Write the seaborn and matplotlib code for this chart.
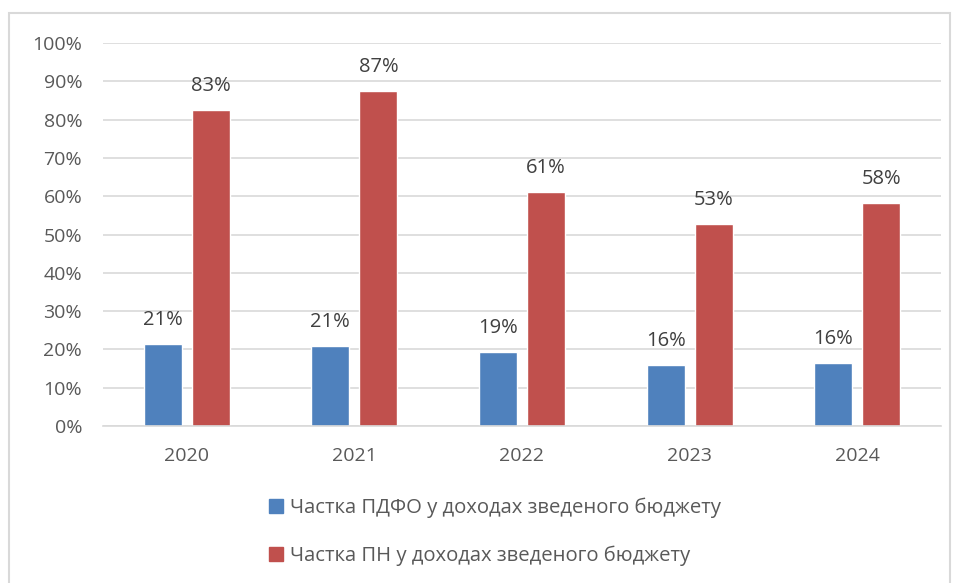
import matplotlib
matplotlib.use("Agg")
import matplotlib.pyplot as plt
import matplotlib.patches as mpatches
import seaborn as sns
import pandas as pd

# Дані (частки у відсотках)
years = ["2020", "2021", "2022", "2023", "2024"]
pdfo_share = [21.4, 20.9, 19.3, 15.9, 16.4]
pn_share = [82.6, 87.4, 61.1, 52.7, 58.2]
series_names = ["Частка ПДФО у доходах зведеного бюджету",
                "Частка ПН у доходах зведеного бюджету"]
colors = ["#4F81BD", "#C0504D"]

df = pd.DataFrame({
    "year": years * 2,
    "value": pdfo_share + pn_share,
    "series": [series_names[0]] * len(years) + [series_names[1]] * len(years),
})

sns.set_style("white")
plt.rcParams["font.family"] = ["Open Sans", "DejaVu Sans"]
text_color = "#595959"
fs = 14

fig = plt.figure(figsize=(9.56, 5.83), dpi=100)
ax = fig.add_axes([0.1077, 0.2693, 0.8766, 0.6569])

sns.barplot(data=df, x="year", y="value", hue="series", palette=colors,
            width=0.573, gap=0.21, ax=ax, legend=False, saturation=1)

for cont in ax.containers:
    ax.bar_label(cont, labels=[f"{v:.0f}%" for v in cont.datavalues],
                 padding=10, fontsize=14.5, color="#404040")

ax.set_ylim(0, 100)
ax.set_xlim(-0.5, 4.5)
ax.set_yticks(range(0, 101, 10))
ax.set_yticklabels([f"{t}%" for t in range(0, 101, 10)])
ax.tick_params(axis="both", length=0, labelsize=fs, colors=text_color)
ax.tick_params(axis="y", pad=15)
ax.tick_params(axis="x", pad=15)
ax.set_xlabel("")
ax.set_ylabel("")
ax.yaxis.grid(True, color="#D9D9D9", linewidth=1.2)
ax.set_axisbelow(True)
for s in ["left", "right", "top"]:
    ax.spines[s].set_visible(False)
ax.spines["bottom"].set_color("#D9D9D9")
ax.spines["bottom"].set_linewidth(1.2)

# Легенда під графіком
handles = [mpatches.Patch(color=c, label=n) for c, n in zip(colors, series_names)]
fig.legend(handles=handles, loc="center", bbox_to_anchor=(0.518, 0.088), ncol=1,
           frameon=False, fontsize=14.6, labelcolor=text_color,
           handlelength=0.7, handleheight=0.7, handletextpad=0.35,
           labelspacing=1.35)

# Рамка навколо діаграми
fig.patches.append(mpatches.Rectangle((9 / 956, -0.05), 941 / 956, 1 - 13 / 583 + 0.05,
                                      transform=fig.transFigure, fill=False,
                                      edgecolor="#D9D9D9", linewidth=1.5))

fig.savefig("out.png", dpi=100)
